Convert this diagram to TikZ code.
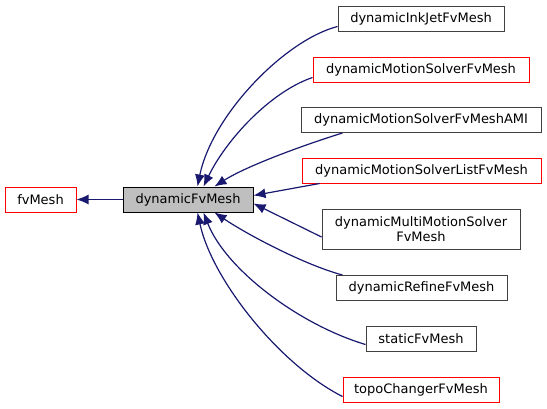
\documentclass[tikz,border=0pt]{standalone}
\usepackage{fontspec}
\setmainfont{DejaVu Sans}
\usetikzlibrary{arrows.meta,positioning}
\definecolor{edgeblue}{HTML}{191970}
\definecolor{boxgray} {HTML}{404040}
\definecolor{boxred}  {HTML}{FF0000}
\definecolor{basefill}{HTML}{BFBFBF}
\tikzset{
  every node/.style={font=\fontsize{13}{15}\selectfont},
  % --- nodes
  cls/.style   = {draw=boxgray, fill=white, line width=1pt, inner sep=0pt,
                  minimum height=25pt, align=center},
  undoc/.style = {cls, draw=boxred},
  base/.style  = {cls, draw=black, fill=basefill},
  % --- edges
  e/.style     = {{Latex[length=12pt,width=10pt]}-, draw=edgeblue, line width=1.2pt},
}

\begin{document}
\begin{tikzpicture}[x=1pt,y=-1pt]
  \useasboundingbox (0,0) rectangle (547,408);
  \node[undoc, minimum width=71pt]  (fv)   at (40.5,199.5) {fvMesh};
  \node[base,  minimum width=130pt] (dyn)  at (188,199.5)  {dynamicFvMesh};
  \node[cls,   minimum width=166pt] (ink)  at (421,18.5)   {dynamicInkJetFvMesh};
  \node[undoc, minimum width=216pt] (ms)   at (421,69.5)   {dynamicMotionSolverFvMesh};
  \node[cls,   minimum width=240pt] (ami)  at (421,120)    {dynamicMotionSolverFvMeshAMI};
  \node[undoc, minimum width=239pt] (msl)  at (421.5,170.5){dynamicMotionSolverListFvMesh};
  \node[cls,   minimum width=198pt, minimum height=40pt] (mms) at (421,229)
       {dynamicMultiMotionSolver\\FvMesh};
  \node[cls,   minimum width=171pt] (ref)  at (421.5,288)  {dynamicRefineFvMesh};
  \node[cls,   minimum width=110pt] (stat) at (421,338.5)  {staticFvMesh};
  \node[undoc, minimum width=156pt] (topo) at (421,389.5)  {topoChangerFvMesh};
  \draw[e] (fv) -- (dyn);
  \draw[e] ([xshift=75pt]dyn.north west) .. controls (212,115) and (285,40) .. ([yshift=-8pt]ink.west);
  \draw[e] ([xshift=81pt]dyn.north west) .. controls (226,140) and (270,92) .. ([yshift=-8pt]ms.west);
  \draw[e] ([xshift=92pt]dyn.north west) .. controls (248,165) and (310,143) .. ([xshift=42pt]ami.south west);
  \draw[e] ([yshift=-9pt]dyn.north east) -- ([xshift=18pt]msl.south west);
  \draw[e] ([yshift=9pt]dyn.south east) -- ([yshift=-8pt]mms.west);
  \draw[e] ([xshift=92pt]dyn.south west) .. controls (248,235) and (305,265) .. ([xshift=7pt]ref.north west);
  \draw[e] ([xshift=81pt]dyn.south west) .. controls (226,270) and (300,325) .. ([yshift=-6pt]stat.west);
  \draw[e] ([xshift=75pt]dyn.south west) .. controls (212,280) and (280,365) .. ([yshift=-7pt]topo.west);
\end{tikzpicture}
\end{document}
